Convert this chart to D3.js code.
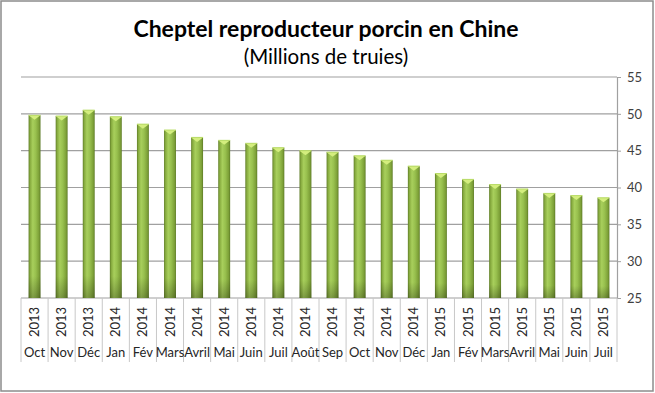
<!DOCTYPE html>
<html><head><meta charset="utf-8">
<script src="https://cdn.jsdelivr.net/npm/d3@7"></script>
<style>
html,body{margin:0;padding:0;background:#fff;}
svg{display:block;font-family:Lato,"Open Sans",sans-serif;}
</style></head>
<body>
<svg id="chart" width="655" height="393"></svg>
<script>
const months = ["Oct","Nov","Déc","Jan","Fév","Mars","Avril","Mai","Juin","Juil","Août","Sep","Oct","Nov","Déc","Jan","Fév","Mars","Avril","Mai","Juin","Juil"];
const years = ["2013","2013","2013","2014","2014","2014","2014","2014","2014","2014","2014","2014","2014","2014","2014","2015","2015","2015","2015","2015","2015","2015"];
const values = [49.8,49.7,50.5,49.6,48.6,47.8,46.8,46.4,46.0,45.4,45.0,44.8,44.3,43.7,42.9,41.9,41.1,40.4,39.8,39.2,38.9,38.6];
const yTicks = [25,30,35,40,45,50,55];
const title = "Cheptel reproducteur porcin en Chine";
const subtitle = "(Millions de truies)";

const svg = d3.select("#chart");
const W = 655, H = 393;
const plot = {left:21, right:617, top:77, bottom:298};

// outer border
svg.append("rect").attr("x",1).attr("y",1).attr("width",W-3).attr("height",H-3)
  .attr("fill","#fff").attr("stroke","#8c8c8c").attr("stroke-width",1.5);

const defs = svg.append("defs");
const g1 = defs.append("linearGradient").attr("id","barGrad").attr("x1","0").attr("x2","1").attr("y1","0").attr("y2","0");
[[0,"#5f7d27"],[0.12,"#86aa3e"],[0.35,"#a8cf5c"],[0.6,"#98c04e"],[0.88,"#7c9f37"],[1,"#5c7a25"]]
  .forEach(([o,c])=>g1.append("stop").attr("offset",o).attr("stop-color",c));
const g2 = defs.append("linearGradient").attr("id","barShade").attr("x1","0").attr("x2","0").attr("y1","0").attr("y2","1");
[[0,"#000",0],[0.88,"#000",0],[1,"#000",0.25]].forEach(([o,c,a])=>g2.append("stop").attr("offset",o).attr("stop-color",c).attr("stop-opacity",a));

const x = d3.scaleBand().domain(d3.range(values.length)).range([plot.left, plot.right]).padding(0);
const y = d3.scaleLinear().domain([25,55]).range([plot.bottom, plot.top]);

// gridlines
svg.append("g").selectAll("line").data(yTicks).join("line")
  .attr("x1",plot.left).attr("x2",plot.right)
  .attr("y1",d=>y(d)).attr("y2",d=>y(d))
  .attr("stroke","#a0a0a0").attr("stroke-width",1.2);

// right axis
const yAxis = d3.axisRight(y).tickValues(yTicks).tickSize(4).tickPadding(6);
const ya = svg.append("g").attr("transform",`translate(${plot.right},0)`).call(yAxis);
ya.select(".domain").attr("stroke","#a0a0a0").attr("stroke-width",1.2);
ya.selectAll(".tick line").attr("stroke","#a0a0a0");
ya.selectAll(".tick text").attr("font-family","Lato, sans-serif").attr("font-size",13).attr("fill","#404040");

// bars
const bw = x.bandwidth()*0.44;
const bars = svg.append("g").selectAll("g").data(values).join("g");
bars.append("rect")
  .attr("x",(d,i)=>x(i)+x.bandwidth()/2-bw/2).attr("width",bw)
  .attr("y",d=>y(d)).attr("height",d=>y(25)-y(d))
  .attr("fill","url(#barGrad)");
bars.append("rect")
  .attr("x",(d,i)=>x(i)+x.bandwidth()/2-bw/2).attr("width",bw)
  .attr("y",d=>y(d)).attr("height",d=>y(25)-y(d))
  .attr("fill","url(#barShade)");
bars.append("path")
  .attr("d",(d,i)=>{const x0=x(i)+x.bandwidth()/2-bw/2, x1=x0+bw, yy=y(d);
    return `M${x0},${yy}L${x1},${yy}L${(x0+x1)/2},${yy+4.5}Z`;})
  .attr("fill","#d4ee7e");
bars.append("path")
  .attr("d",(d,i)=>{const x0=x(i)+x.bandwidth()/2-bw/2, x1=x0+bw, yy=y(d);
    return `M${x0},${yy}L${x1},${yy}`;})
  .attr("stroke","#b9dc68").attr("stroke-width",1);

// category table lines
const sep = d3.range(values.length+1).map(i=> i<values.length ? x(i) : plot.right);
svg.append("g").selectAll("line").data(sep).join("line")
  .attr("x1",d=>d).attr("x2",d=>d).attr("y1",plot.bottom).attr("y2",362)
  .attr("stroke","#c8c8c8").attr("stroke-width",1);

// year labels
svg.append("g").selectAll("text").data(years).join("text")
  .attr("transform",(d,i)=>`translate(${x(i)+x.bandwidth()/2+4.5},322) rotate(-90)`)
  .attr("text-anchor","middle").attr("font-size",13).attr("fill","#262626").text(d=>d);
// month labels
svg.append("g").selectAll("text").data(months).join("text")
  .attr("x",(d,i)=>x(i)+x.bandwidth()/2).attr("y",357)
  .attr("text-anchor","middle").attr("font-size",13).attr("fill","#262626").text(d=>d);

// titles
svg.append("text").attr("x",326).attr("y",37).attr("text-anchor","middle")
  .attr("font-size",23).attr("font-weight","bold").attr("fill","#000").text(title);
svg.append("text").attr("x",326).attr("y",64).attr("text-anchor","middle")
  .attr("font-size",20.5).attr("fill","#000").text(subtitle);
</script>
</body></html>
